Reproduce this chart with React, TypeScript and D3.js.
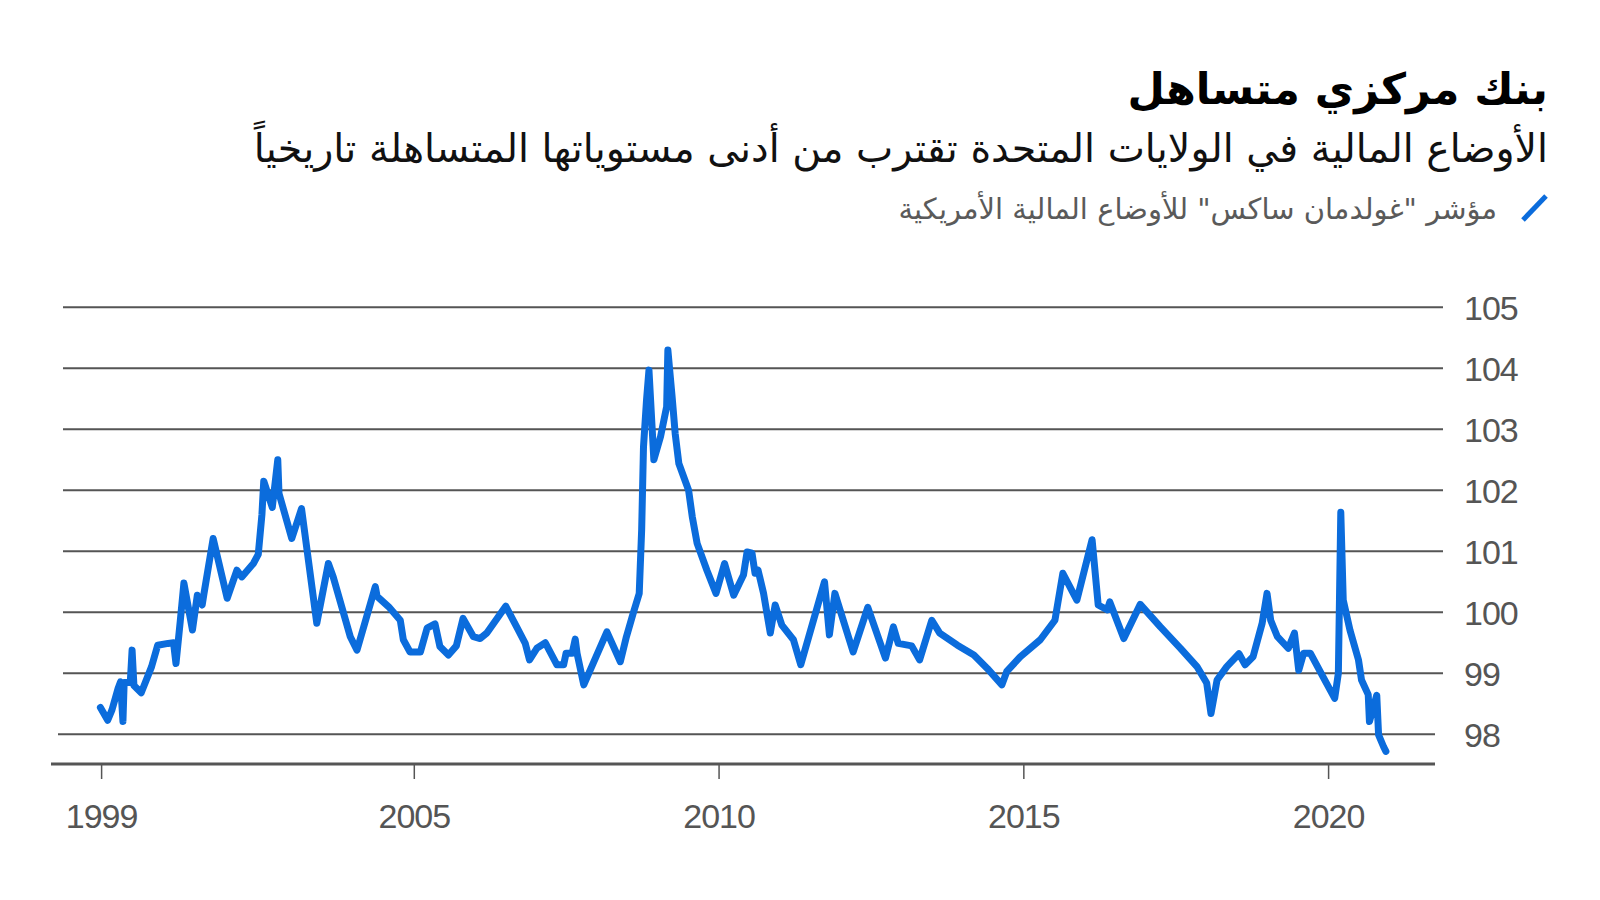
import React from "react";
import * as d3 from "d3";

if (typeof document !== "undefined") {
  document.body.style.margin = "0";
}

// Decimal-year dates of the traced observations
const dates: number[] = [
  1999.85, 1999.97, 2000.04, 2000.14, 2000.18, 2000.22, 2000.24, 2000.34, 2000.37, 2000.4,
  2000.52, 2000.69, 2000.79, 2000.96, 2001.05, 2001.09, 2001.16, 2001.22, 2001.36, 2001.44,
  2001.52, 2001.55, 2001.7, 2001.93, 2002.09, 2002.17, 2002.36, 2002.44, 2002.5, 2002.53,
  2002.67, 2002.76, 2002.78, 2002.99, 2003.15, 2003.4, 2003.59, 2003.67, 2003.95, 2004.06,
  2004.36, 2004.39, 2004.58, 2004.77, 2004.82, 2004.93, 2005.1, 2005.21, 2005.34, 2005.42,
  2005.56, 2005.69, 2005.8, 2005.97, 2006.08, 2006.19, 2006.5, 2006.69, 2006.82, 2006.89,
  2007.01, 2007.15, 2007.34, 2007.45, 2007.49, 2007.59, 2007.64, 2007.67, 2007.78, 2008.16,
  2008.38, 2008.48, 2008.59, 2008.69, 2008.73, 2008.76, 2008.81, 2008.85, 2008.93, 2009.04,
  2009.14, 2009.16, 2009.23, 2009.28, 2009.34, 2009.5, 2009.56, 2009.64, 2009.8, 2009.95,
  2010.09, 2010.24, 2010.4, 2010.46, 2010.54, 2010.59, 2010.64, 2010.73, 2010.84, 2010.92,
  2011.03, 2011.22, 2011.34, 2011.73, 2011.81, 2011.9, 2012.2, 2012.44, 2012.73, 2012.86,
  2012.94, 2013.16, 2013.29, 2013.49, 2013.62, 2013.91, 2014.18, 2014.4, 2014.64, 2014.72,
  2014.94, 2015.27, 2015.51, 2015.64, 2015.87, 2016.12, 2016.22, 2016.37, 2016.41, 2016.64,
  2016.91, 2017.24, 2017.57, 2017.84, 2018.0, 2018.07, 2018.17, 2018.33, 2018.53, 2018.63,
  2018.76, 2018.91, 2018.99, 2019.05, 2019.16, 2019.34, 2019.44, 2019.51, 2019.59, 2019.7,
  2019.92, 2020.1, 2020.16, 2020.2, 2020.24, 2020.35, 2020.49, 2020.54, 2020.65, 2020.67,
  2020.79, 2020.82, 2020.9, 2020.94,
];

// Goldman Sachs US Financial Conditions Index values
const fciValues: number[] = [
  98.44, 98.23, 98.4, 98.75, 98.86, 98.21, 98.85, 98.85, 99.38, 98.8,
  98.68, 99.11, 99.46, 99.49, 99.5, 99.16, 99.85, 100.48, 99.71, 100.28,
  100.12, 100.31, 101.21, 100.23, 100.69, 100.58, 100.8, 100.95, 101.6, 102.15,
  101.72, 102.5, 101.95, 101.21, 101.7, 99.82, 100.8, 100.58, 99.6, 99.38,
  100.42, 100.26, 100.09, 99.87, 99.55, 99.35, 99.35, 99.74, 99.81, 99.44,
  99.3, 99.45, 99.9, 99.6, 99.57, 99.66, 100.1, 99.74, 99.49, 99.22,
  99.41, 99.5, 99.14, 99.14, 99.33, 99.33, 99.56, 99.33, 98.81, 99.68,
  99.19, 99.6, 99.98, 100.31, 101.35, 102.71, 103.48, 103.97, 102.5, 102.88,
  103.37, 104.3, 103.53, 102.93, 102.44, 102.0, 101.57, 101.13, 100.69, 100.31,
  100.8, 100.28, 100.61, 100.99, 100.97, 100.64, 100.69, 100.31, 99.66, 100.12,
  99.79, 99.55, 99.14, 100.5, 99.63, 100.31, 99.35, 100.08, 99.25, 99.76,
  99.49, 99.45, 99.22, 99.87, 99.66, 99.46, 99.3, 99.08, 98.81, 99.03,
  99.27, 99.55, 99.87, 100.64, 100.2, 101.19, 100.12, 100.04, 100.17, 99.57,
  100.13, 99.76, 99.41, 99.11, 98.84, 98.34, 98.89, 99.11, 99.32, 99.14,
  99.27, 99.82, 100.31, 99.87, 99.6, 99.41, 99.66, 99.05, 99.33, 99.33,
  98.92, 98.59, 99.0, 101.64, 100.2, 99.71, 99.22, 98.89, 98.65, 98.21,
  98.64, 97.99, 97.8, 97.72,
];

const yTicks: number[] = [98, 99, 100, 101, 102, 103, 104, 105];
const xTickValues: number[] = [1999.87, 2005, 2010, 2015, 2020];
const xTickLabels: string[] = ["1999", "2005", "2010", "2015", "2020"];

const titleText = "بنك مركزي متساهل";
const subtitleText =
  "الأوضاع المالية في الولايات المتحدة تقترب من أدنى مستوياتها المتساهلة تاريخياً";
const legendText = 'مؤشر "غولدمان ساكس" للأوضاع المالية الأمريكية';

const W = 1600;
const H = 900;
const LINE_COLOR = "#0b6cdc";
const GRID_COLOR = "#555555";
const TEXT_GRAY = "#555555";
const ARABIC_FONT = "'DejaVu Sans', 'Noto Sans', sans-serif";
const NUM_FONT = "'Liberation Sans', Arial, sans-serif";

export default function App() {
  const x = d3.scaleLinear().domain([2005, 2020]).range([414.3, 1328.6]);
  const y = d3.scaleLinear().domain([98, 105]).range([734.3, 307.3]);

  const points: [number, number][] = dates.map((d, i) => [d, fciValues[i]]);
  const linePath =
    d3
      .line<[number, number]>()
      .x((p) => x(p[0]))
      .y((p) => y(p[1]))(points) || "";

  const baselineY = 764;
  const gridLeft = 63;
  const gridRight = 1443;

  return (
    <svg width={W} height={H} viewBox={`0 0 ${W} ${H}`} style={{ display: "block", background: "#fff" }}>
      <rect x={0} y={0} width={W} height={H} fill="#ffffff" />
      {/* Title block */}
      <text
        x={1548}
        y={104}
        textAnchor="end"
        fontFamily={ARABIC_FONT}
        fontWeight={700}
        fontSize={43}
        fill="#000"
      >
        {titleText}
      </text>
      <text
        x={1548}
        y={162}
        textAnchor="end"
        fontFamily={ARABIC_FONT}
        fontSize={39.5}
        fill="#111"
      >
        {subtitleText}
      </text>
      {/* Legend */}
      <line x1={1523} y1={220} x2={1546} y2={196} stroke={LINE_COLOR} strokeWidth={5} strokeLinecap="butt" />
      <text
        x={1497}
        y={219}
        textAnchor="end"
        fontFamily={ARABIC_FONT}
        fontSize={29}
        fill="#5a5a5a"
      >
        {legendText}
      </text>

      {/* Grid lines */}
      {yTicks.map((t) => (
        <line
          key={`g${t}`}
          x1={t === 98 ? 58 : gridLeft}
          x2={t === 98 ? 1435 : gridRight}
          y1={y(t)}
          y2={y(t)}
          stroke={GRID_COLOR}
          strokeWidth={2}
        />
      ))}
      {/* Y labels */}
      {yTicks.map((t) => (
        <text
          key={`yl${t}`}
          x={1464}
          y={y(t)}
          dy="0.36em"
          fontFamily={NUM_FONT}
          fontSize={34}
          letterSpacing={-1}
          fill={TEXT_GRAY}
        >
          {t}
        </text>
      ))}

      {/* Baseline */}
      <line x1={51} x2={1435} y1={baselineY} y2={baselineY} stroke={GRID_COLOR} strokeWidth={3} />
      {/* X ticks */}
      {xTickValues.map((v, i) => (
        <g key={`xt${i}`}>
          <line x1={x(v)} x2={x(v)} y1={baselineY} y2={baselineY + 15} stroke={GRID_COLOR} strokeWidth={1.5} />
          <text
            x={x(v)}
            y={828}
            textAnchor="middle"
            fontFamily={NUM_FONT}
            fontSize={34}
            letterSpacing={-1}
            fill={TEXT_GRAY}
          >
            {xTickLabels[i]}
          </text>
        </g>
      ))}

      {/* Series */}
      <path
        d={linePath}
        fill="none"
        stroke={LINE_COLOR}
        strokeWidth={7}
        strokeLinejoin="round"
        strokeLinecap="round"
      />
    </svg>
  );
}
